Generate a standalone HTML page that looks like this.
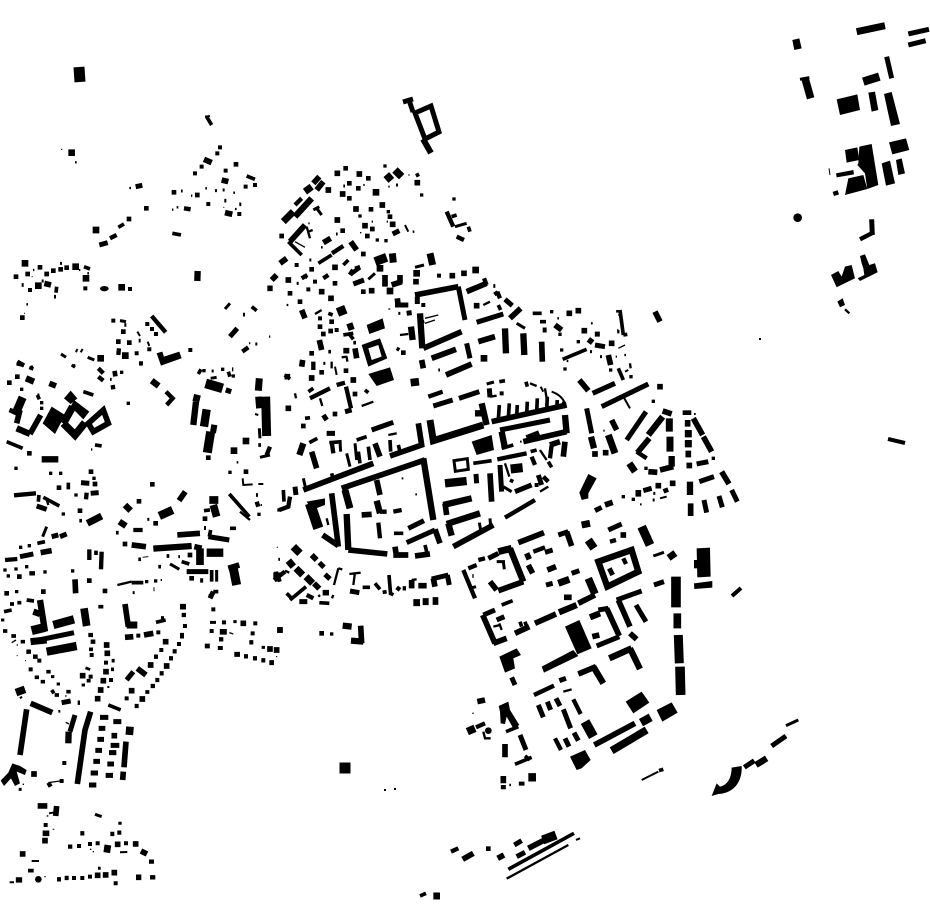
<!DOCTYPE html>
<html><head><meta charset="utf-8"><style>
html,body{margin:0;padding:0;background:#fff}
svg{display:block}
path{fill:none;stroke:#000;stroke-linejoin:miter}
polygon,circle,ellipse,path.f{fill:#000;stroke:none}
[class^=d]{stroke-linecap:square}
.w2{stroke-width:3}.w3{stroke-width:4}.w4{stroke-width:6}.w5{stroke-width:7}.w6{stroke-width:9}.w8{stroke-width:11}.w10{stroke-width:13}.w12{stroke-width:15}.w14{stroke-width:17}.w16{stroke-width:19}.w18{stroke-width:21}.w20{stroke-width:23}.w22{stroke-width:25}.w24{stroke-width:27}.w26{stroke-width:29}.w28{stroke-width:31}
.d2{stroke-width:4}.d4{stroke-width:10}.d5{stroke-width:12}.d6{stroke-width:10}.d8{stroke-width:14}.d10{stroke-width:17}.d12{stroke-width:20}
</style></head><body>
<svg width="930" height="924" viewBox="0 0 930 924" xmlns="http://www.w3.org/2000/svg">
<rect width="930" height="924" fill="#fff"/>

<!-- real coordinates -->
<g>
<path style="stroke-width:5" d="M415 113L431 106L439 132L425 139Z"/>
<path style="stroke-width:5" d="M403 102L413 99M409 100L413 112"/>
<path style="stroke-width:6" d="M423 139L431 153"/>
<path style="stroke-width:11" d="M79 67L80 82"/>
<path style="stroke-width:4" d="M888 439L905 443"/>
<path style="stroke-width:4" d="M732 596L741 588"/>
<path style="stroke-width:11;stroke-linecap:square" d="M345 768h0"/>
<path style="stroke-width:2;stroke-linecap:square" d="M385 790h0M395 789h0M760 339h0"/>
</g>

<!-- A : old town -->
<g transform="translate(270 370) scale(.3333)">
<polygon points="295,12 360,-8 372,30 320,48"/>
<polygon points="605,215 665,195 672,240 620,255"/>
<polygon points="110,395 165,385 165,405 125,420"/>
<path class=w4 d="M395 325h5M436 373h5M750 215h5M845 65Q875 75 885 100M812 50L820 65"/>
<path class=w5 d="M150 85L157 108M75 70L78 85M275 108L310 95M355 195L380 190M660 80L680 77M825 55L830 85M780 40L800 48M170 445L175 465M705 280L718 320M810 240L830 270M810 365L835 350"/>
<path class=w6 d="M650 42L672 36M210 215L212 245M255 220L260 270M230 250L240 290M100 325L108 360M700 350L725 365M660 445L662 470M628 458L632 480"/>
<path class=w6 d="M552 272L592 266L595 298L556 304Z"/>
<path class=w8 d="M115 65L130 55M285 60L295 68M105 145L120 143M118 218L142 205M178 218L215 215M260 210L290 200M265 245L270 280M295 230L300 270M360 210L362 245M385 225L390 245M688 35L705 32M768 35L772 50M730 335L720 330M610 280L665 272M782 245L800 240M835 275L845 292M372 490L400 490M695 235L730 225M185 310L190 330M465 525L470 545M40 360L42 395"/>
<path class=w8 d="M685 150L688 105M715 145L718 100M740 140L742 105M770 135L772 95M800 130L802 85M830 125L832 80M860 118L862 90M880 115L882 95"/>
<path class=w10 d="M475 80L518 65M120 85L180 55M200 45L225 38M228 50L243 115M185 215L190 250M845 225L840 265M785 260L795 285M682 268L770 250M60 380L55 410L28 420M705 443L795 390M820 320L835 335M330 425L350 425M370 425L395 420M325 458L330 505M270 72L270 72"/>
<path class=w12 d="M490 108L548 90M567 85L628 65M305 180L370 157M170 190L195 190M658 55L660 82M618 312L620 340M690 285L695 365M690 180L840 150M735 365L785 345M805 315L815 345M410 518L495 480M415 475L462 452M75 350L78 375M225 125L245 120M160 135L170 150"/>
<path class=w14 d="M665 155L890 105M445 160L455 225L360 258M125 245L140 295M100 360L310 280M215 355L465 270M320 330L330 375M275 435L305 433M235 540L352 552M185 370L205 530M158 495L205 527M495 478L510 520M375 530L380 562M370 555L415 555M435 558L480 552M660 310L665 395M525 400L530 435M550 530L670 465M760 215L890 185M885 215L880 260M840 225L870 215M315 220L330 260"/>
<path class=w16 d="M635 100L650 165M100 220L88 255M460 265L490 450M230 432L235 540M320 392L330 430M520 405L605 385M530 462L630 430M535 460L545 497M695 185L705 235M885 135L890 190M615 130L635 130M770 205L808 190"/>
<path class=w18 d="M480 150L490 212L640 165M225 360L240 415"/>
<path class=w20 d="M422 38L447 35"/>
<path class=w22 d="M525 340L590 333"/>
<path class=w28 d="M120 400L145 475"/>
<path class=w24 d="M722 297L758 293"/>
<path class=d5 d="M695 70h0M800 345h0"/>
<path class=d8 d="M100 168h0M195 132h0M255 72h0"/>
<path class=d10 d="M52 20h0M125 24h0M55 115h0M250 30h0"/>
<path class=w8 d="M44 15L60 27"/>
</g>

<!-- I : south arc -->
<g transform="translate(270 530) scale(.3333)">
<path class=w2 d="M20 52h3"/>
<path class=w5 d="M45 122L58 128M205 115L192 165M205 115L217 118M190 195L186 205M238 132L272 128M255 128L250 165M425 150L440 148M145 195L150 200"/>
<path class=w6 d="M25 88h5"/>
<path class=w8 d="M60 210L108 170M50 190L65 205M22 130L30 155M148 218L178 220M278 172L300 172M315 160L330 178M338 187L350 185M357 135L362 195M362 190L370 195"/>
<path class=w10 d="M12 150L45 125M110 195L130 205M380 172L390 180M398 175L408 175"/>
<path class=w12 d="M88 215L112 215M240 183L268 188M148 98L162 112M165 133L180 147M485 147L535 135M532 135L538 165"/>
<path class=w14 d="M125 75L140 90M132 160L148 176M158 188L177 188M425 150L425 175M445 167L470 167M490 145L495 170M22 300L38 300M272 287L275 340"/>
<path class=w16 d="M218 287L245 290M243 332L280 335"/>
<path class=w18 d="M55 92L70 110M78 115L98 135M108 140L128 160M430 218L450 218M458 215L476 215"/>
<path class=w20 d="M70 50L90 70M488 213L505 213"/>
<path class=d8 d="M155 310h0"/>
<path class=d6 d="M185 312h0"/>
</g>

<!-- C : south-east quarter -->
<g transform="translate(460 520) scale(.3333)">
<polygon points="710,85 750,83 752,170 712,172"/>
<polygon points="702,120 712,120 712,145 702,145"/>
<polygon points="702,190 757,183 757,203 703,207"/>
<polygon points="315,320 358,300 395,385 352,403"/>
<polygon points="245,440 340,390 355,408 252,458"/>
<polygon points="118,410 170,385 183,405 160,415 165,445 135,458"/>
<polygon points="590,570 635,547 653,578 607,605"/>
<polygon points="497,545 545,515 568,548 520,580"/>
<polygon points="330,710 375,690 392,720 365,745 350,750"/>
<polygon points="116,558 145,545 150,570 178,615 160,625 140,590 135,612 122,610 120,575"/>
<circle cx="85" cy="632" r="10"/>
<path class=w16 d="M415 125L515 90L535 155L442 200Z"/>
<path class=w3 d="M37 580h4"/>
<path class=w4 d="M545 780L595 755"/>
<path class=w5 d="M70 635L75 655L92 655M100 320L120 315M118 310L125 330M310 515L335 508M148 795h5"/>
<path class=w6 d="M580 108L612 97M110 125L135 125M130 125L133 148M28 205L48 200"/>
<path class=w8 d="M125 255L158 242M180 305L185 320M195 305L200 320M138 635L175 620M165 733L215 712M195 708L210 720M597 752L610 748M37 168h4"/>
<path class=w10 d="M25 145L50 135M55 120L75 115M10 150L45 235M220 95L255 82M450 65L468 60M222 525L282 497M340 538L362 582M285 655L303 690M48 622L75 610M490 115L498 132"/>
<path class=w12 d="M295 45L325 35M445 30L485 12M85 115L115 100M258 195L278 190M335 160L358 152M70 285L105 270M110 300L133 290M255 97L278 90M415 270L445 265M410 378L478 350M528 255L558 305M470 240L545 213M448 145L458 165M582 195L612 185M235 555L250 592M262 545L272 570M288 535L300 558M310 568L332 625M315 655L327 680M342 638L355 662M298 482L318 475M155 472L165 495M180 645L198 690M130 795L130 808"/>
<path class=w14 d="M175 68L252 38M320 35L335 78M190 185L115 212M90 185L110 210M200 100L208 118M205 135L218 160M262 150L288 140M312 232L335 232M405 225L355 250M225 310L288 282M475 240L510 320M68 285L105 370M100 370L140 355M165 340L208 320M440 265L478 348M397 350L418 345M355 462L408 440M52 545L75 540M510 340L530 358M403 675L525 610M135 672L135 712M130 768L130 790M185 785L185 797"/>
<path class=w16 d="M150 85L190 185M297 277L350 255M390 292L420 280M448 415L515 385M510 385L540 447M400 440L430 490"/>
<path class=w18 d="M115 95L155 85M295 190L328 178M365 15L390 10"/>
<path class=w20 d="M385 175L405 222M652 280L652 325M455 692L560 630M22 635L45 625"/>
<path class=w22 d="M385 60L402 85M630 98L642 115M205 772L228 772M543 608L572 592"/>
<path class=w24 d="M545 20L570 75M655 345L658 430"/>
<path class=w26 d="M648 170L648 262M660 440L662 525M375 605L400 650"/>
<path class=d10 d="M490 45h0"/>
</g>

<!-- J : far south -->
<g transform="translate(420 690) scale(.3333)">
<path class=f d="M935 233L965 228C968 270 945 310 895 312L875 318L890 280L900 290C925 285 935 260 935 233Z"/>
<path class=w4 d="M468 450L480 445"/>
<path class=w5 d="M260 566L445 465"/>
<path class=w6 d="M1098 107L1135 90"/>
<path class=w8 d="M265 538L462 430M0 618L18 610"/>
<path class=w10 d="M93 485L115 475"/>
<path class=w12 d="M973 232L1003 212M1055 168L1098 138M290 500L315 487M283 465L305 452"/>
<path class=w14 d="M128 508L160 490M233 505L252 495M325 475L370 452"/>
<path class=w16 d="M1008 225L1040 205"/>
<path class=w18 d="M40 618L60 618"/>
<path class=w24 d="M368 450L408 435"/>
<path class=d8 d="M205 476h0"/>
</g>

<!-- B : north quarter -->
<g transform="translate(260 160) scale(.3333)">
<polygon points="320,495 368,475 375,505 328,522"/>
<path class=f fill-rule="evenodd" d="M305 555L340 542L360 535L382 595L325 620ZM325 565L355 555L365 590L335 600Z"/>
<path class=w3 d="M105 245L135 262M495 475L535 465M495 490L525 480M490 480L492 490M385 447h6M300 218h4M445 45h4"/>
<path class=w4 d="M435 195L445 215M145 190h4M310 75h4M385 80h4M380 185h4M335 185h4M80 435h4M225 620L230 645"/>
<path class=w5 d="M140 200L150 235M145 215L158 210M183 262h5M420 525L445 522M165 462L185 450M670 435L690 425M245 592L262 590M260 590L262 605M215 605L215 625M458 215h5M80 435h5"/>
<path class=w6 d="M585 200L620 190M465 322L492 315M325 358L345 340M770 490L795 505M250 78h5M228 222h5M148 300h6M110 370h6M408 75h6M190 610h6M415 460h6M535 630h5"/>
<path class=w8 d="M85 245L125 285M175 310L215 285M250 315L265 300M285 325L300 320M575 170L590 165M625 200L630 215M470 40L475 50M205 460L218 465M250 525L280 520M270 525L280 538M715 435L722 450M410 565L418 570M205 575h8M280 548h8M700 378h6"/>
<path class=w10 d="M560 155L580 200M590 230L612 240M216 280L250 258M125 355L142 345M190 355L205 345M275 340L300 322M160 605L160 630M712 395L720 415M705 395L712 405M672 355L680 375"/>
<path class=w12 d="M620 550L630 595M398 222L418 212M280 372L312 360M270 345L280 330M440 460L455 458M405 435L445 435M650 487L730 462M735 418L757 437M472 410L472 432M595 380L615 480"/>
<path class=w14 d="M160 70L178 50M170 90L190 65M90 245L135 195M190 248L212 235M60 310L80 295M35 360L50 345M22 385L38 385M272 245L290 270M178 540L185 570M125 450L135 475M250 572L268 572M465 405L595 380M490 565L605 515M515 595L588 568M485 600L490 625M558 645L635 612M655 545L705 530M620 395L680 370M750 475L782 445M375 345L375 380M395 375L425 365M412 415L415 440M285 565L290 595M128 600L125 620M420 345L420 370"/>
<path class=w16 d="M105 170L155 115M480 460L487 565M735 505L738 580M790 520L793 585M453 500L458 540M268 490L275 510"/>
<path class=w18 d="M135 95L155 80M70 185L100 155M510 280L518 315M397 280L400 308"/>
<path class=w20 d="M405 30L425 50M378 60L395 45"/>
<path class=w24 d="M240 440L250 465M345 305L380 292"/>
<path class=w10 d="M105 135L125 115"/>
<path class=w6 d="M170 145L185 165M160 150L178 140"/>
<path class=d4 d="M485 105h0M582 117h0M352 240h0M378 242h0M375 18h0M300 168h0M385 155h0M205 90h0"/>
<path class=d5 d="M490 435h0M537 347h0M110 315h0M135 350h0M165 365h0M145 388h0M180 475h0M230 510h0"/>
<path class=d8 d="M257 25h0M325 55h0M268 70h0M268 115h0M295 85h0M333 148h0M390 170h0M337 207h0M322 228h0M248 212h0M155 328h0M90 400h0M120 425h0M225 370h0M215 485h0M180 500h0M190 522h0M212 513h0M155 580h0M185 637h0M258 632h0M310 282h0M65 228h0M430 578h0M310 395h0"/>
<path class=d10 d="M232 40h0M298 42h0M472 68h0M288 147h0M367 135h0M398 193h0M315 197h0M232 180h0M185 395h0M213 415h0M225 322h0M248 102h0M85 360h0M468 365h0M577 347h0M612 340h0M650 437h0M335 392h0M205 90h0"/>
<path class=d12 d="M348 97h0M470 340h0M360 325h0M647 330h0M390 393h0M672 595h0"/>
</g>

<!-- F : far north-east -->
<g transform="translate(780 10) scale(.3333)">
<polygon points="37,90 58,85 65,115 43,120"/>
<polygon points="170,268 232,253 240,300 180,315"/>
<polygon points="265,248 285,245 295,300 275,305"/>
<polygon points="312,252 335,246 360,342 333,348"/>
<polygon points="327,397 378,385 388,420 337,433"/>
<polygon points="195,420 232,412 238,450 200,458"/>
<polygon points="238,410 275,402 295,525 262,537 255,490 232,465 235,460"/>
<polygon points="205,505 250,495 262,537 195,555"/>
<polygon points="168,490 220,480 222,493 170,502"/>
<polygon points="305,460 330,452 345,520 318,527"/>
<polygon points="348,450 365,445 375,490 355,495"/>
<polygon points="153,795 175,783 185,800 195,770 215,765 225,805 170,832"/>
<polygon points="240,738 255,733 268,765 285,760 293,787 240,813 233,805 253,795 250,775 245,760"/>
<polygon points="172,875 188,865 195,885 180,892"/>
<circle cx="53" cy="623" r="13"/>
<path class=w2 d="M147 475L150 495"/>
<path class=w5 d="M195 898L208 910"/>
<path class=w6 d="M60 208L88 203"/>
<path class=w10 d="M160 552L175 547M240 688L275 670"/>
<path class=w12 d="M385 72L447 58M385 105L437 92M320 140L335 205M275 628L277 675"/>
<path class=w18 d="M230 65L315 47"/>
<path class=w20 d="M75 205L92 265"/>
<path class=w22 d="M250 215L298 200"/>
</g>

<!-- G : east -->
<g transform="translate(520 300) scale(.3333)">
<polygon points="205,522 230,535 205,580 205,595 185,600 178,578"/>
<path class=w3 d="M295 145L315 135"/>
<path class=w4 d="M287 170h4M315 215L325 210M310 290L330 325M360 613h5M420 595L440 590M250 392h4M295 45h4M522 342h5"/>
<path class=w5 d="M112 55h5M140 183h5M313 165h5M213 70h5M330 190L332 205M292 90L295 90M295 90L295 100M292 30L292 38"/>
<path class=w6 d="M210 155h6M240 170h6M398 600h6M400 580h6"/>
<path class=w8 d="M38 40L65 40M60 65L78 65M128 178L200 148M300 30L310 105M295 205L310 240M310 105L322 103"/>
<path class=w10 d="M350 455L380 475"/>
<path class=w12 d="M68 90h12M200 325L215 400M218 280L285 250M245 320L385 252M320 420L378 335M530 492L565 485M538 545L582 530M635 570L652 605M597 588L607 622M552 600L560 638M225 632L245 622M225 135L255 140M370 572L395 565M435 565L440 578M232 95L232 110"/>
<path class=w14 d="M65 125L67 185M105 75L125 90M265 165L272 195M405 35L420 65M178 240L205 272M275 360L290 390M352 458L388 415M428 333L455 342M420 510L460 500M385 515L412 517M520 355L548 405M550 410L575 455M605 515L627 552M503 360L503 380M505 452L505 472M508 488L508 505M512 610L512 648M255 615L278 607M355 570L355 590M205 118L218 128"/>
<path class=w16 d="M385 405L428 350M213 410L222 445M455 468L455 500M510 545L510 585"/>
<path class=w18 d="M448 355L448 395M450 410L450 455M505 390L505 412M505 420L505 442M328 490L345 515M265 405L285 460"/>
<path class=d4 d="M272 210h0M333 230h0M120 103h0M125 150h0M175 125h0M400 304h0M378 505h0M95 35h0M310 590h0M340 598h0M580 475h0M135 207h0"/>
<path class=d8 d="M495 338h12"/>
<path class=d10 d="M148 40h0M175 32h0M193 92h0M275 130h0M225 462h0M257 458h0M415 557h0M458 550h0M420 260h0"/>
</g>

<!-- D : west -->
<g transform="translate(0 360) scale(.3333)">
<polygon points="128,190 155,140 195,165 165,222"/>
<polygon points="192,115 212,92 232,115 212,132"/>
<polygon points="222,120 268,155 250,178 212,140"/>
<path class=w20 d="M190 190L225 225L255 188M190 190L218 140"/>
<path class=w14 d="M265 190L310 150L325 190L280 215Z"/>
<path class=w2 d="M428 592L445 590M462 682L462 694"/>
<path class=w3 d="M275 265L275 272M698 22L698 34M832 562h1"/>
<path class=w4 d="M765 162L775 165M728 355L730 375L758 373M775 372L790 372M615 498L615 510M482 660h4M782 435h4"/>
<path class=w5 d="M720 455L750 480M352 675L395 665M140 418L145 435M710 307h5"/>
<path class=w6 d="M35 145L30 158M632 55L650 52M778 205L780 235M780 292L810 285M128 530L140 500M112 105h6M215 15L225 22M330 58h5M442 478h6M510 612L538 628M605 655L605 668M650 630L650 665M635 33h6M535 590h5M398 698h6"/>
<path class=w8 d="M250 95L280 105M88 22L100 27M20 245L68 265M285 255L305 258M130 412L178 438M117 405L115 425M112 550L135 545M688 402L748 470M595 42L603 28M685 35L690 50M632 510L628 530M635 630L635 665M640 695L655 695M690 505L708 505M612 452L630 450M545 605L568 612M475 620h8M500 588h8M415 598h8M395 668L430 668M768 405h6M775 255h8M238 482h8M348 518h8M112 105L118 118"/>
<path class=w10 d="M50 10L72 15M295 25L310 40M295 50L310 62M338 75L340 88M498 95L518 115L500 135M42 406L108 400M260 398L258 418M268 568L268 600M305 575L303 628M400 510L428 510M810 260L800 285M15 600L52 597M88 640L105 640M770 425L775 440M828 635L832 665"/>
<path class=w8 d="M205 368L205 388M288 572L288 585"/>
<path class=w12 d="M272 400L296 398M110 438L140 448M60 590L100 582M155 530L175 525M180 530L200 522M243 368L268 370M625 530L688 540M640 695L630 715M560 635L625 635M820 645L840 645"/>
<path class=w14 d="M148 70L168 78M338 42L352 40M60 150L50 190M537 422L556 395M90 222L122 165M225 658L227 700M395 555L438 560M122 578L155 572M532 525L600 520M583 560L605 565M685 625L718 615M688 85L683 100"/>
<path class=w16 d="M50 205L90 222M78 55L102 65M125 298L175 298M588 125L580 195M775 110L778 145M460 566L575 558M358 485L378 498M455 62L476 78M375 435L392 452"/>
<path class=w18 d="M778 55L775 92M262 490L305 468M580 112L600 117"/>
<path class=w20 d="M628 420L655 420M640 435L650 470M600 565L600 615"/>
<path class=w22 d="M68 112L45 165M620 148L612 200M478 468L518 450M620 578L670 578M632 205L650 208"/>
<path class=w24 d="M632 215L622 278M797 110L800 228M700 625L710 675"/>
<path class=w26 d="M617 70L668 85"/>
<path class=d4 d="M125 128h0M125 145h0M65 88h0M190 462h0M88 557h0M48 325h0M15 630h0M48 627h0M80 620h0M25 648h0M135 636h0M218 633h0M50 695h0M440 665h0M467 663h0M690 337h0M282 355h0M365 37h0M422 12h0M152 340h0M182 340h0M385 130h0M612 32h0M668 28h0M700 48h0M228 405h0M837 450h0M777 463h0M62 562h0"/>
<path class=d8 d="M52 50h0M28 68h0M88 280h0M273 335h0M285 372h0M417 424h0M240 452h0M467 490h0M375 552h0M570 585h0M58 650h0M268 662h0M20 700h0M130 695h0M315 693h0M615 476h0M738 335h0M738 243h0M702 272h0M177 383h0M625 293h0M457 373h0M575 655h0"/>
<path class=d12 d="M738 243h0"/>
<path class=d12 d="M702 272h0"/>
</g>

<!-- E : south-west -->
<g transform="translate(0 590) scale(.3333)">
<polygon points="37,520 60,528 80,540 75,555 50,545 60,580 45,588 33,565 12,588 2,572 25,548"/>
<circle cx="115" cy="868" r="10"/>
<path class=w2 d="M75 212h3M158 718h5M828 200h4M50 197h3"/>
<path class=w3 d="M35 158L48 150M50 165h4M197 397L207 402M270 778h4M278 785h4M145 578L180 573M68 583h4M140 678h5M133 860h4M688 128L700 132M195 318h5"/>
<path class=w4 d="M60 325L66 320M178 360L178 368M147 670L165 667M95 813L117 813M360 787L382 786M29 877L42 877M325 288L325 294"/>
<path class=w6 d="M285 673L305 680M3 90h10M153 260h10M170 282h10M56 598h9M355 700h10M294 835h8M785 172h10M630 97L648 97M700 95h10M245 285h10"/>
<path class=w8 d="M30 42h12M52 38h12M80 30L102 33M12 65L35 60M9 123h13M62 155h13M34 138h14M295 50L310 50M468 97L497 90M104 262h13M122 275h13M139 245h13M155 300L162 310M164 315h13M199 305h13M325 345L362 360M84 842L101 842M267 178h12M436 306h12M333 238h9M335 212h9M260 272h12"/>
<path class=w10 d="M79 185h14M99 200h14M265 135h14M272 155h14M233 338L240 338M483 85h9M545 75h13M518 184h12M462 200h12M507 205h12M479 250h12M466 270h12M452 288h13M404 348h12M450 862L466 862M447 815L462 815M326 522h14M204 770h13M145 578L152 590M241 730h12M331 732h12M352 728h12M171 868h12M194 864h12M657 148h13M748 157h12M732 199h12M759 205h12M784 211h12"/>
<path class=w12 d="M185 338L212 333M265 232L262 240M380 270L400 245M300 382L325 382M296 415L316 415M292 448L312 448M286 481L306 481M280 514L300 514M272 549L294 549M267 585L289 585M327 488L349 488M317 556L339 556M322 522L342 522M340 395L364 395M622 161L622 175M661 168L661 180M703 193L720 193M808 218L822 218"/>
<path class=w14 d="M113 648L142 648M170 648L167 678M80 358L60 495M92 340L157 368M272 365L255 420L232 582M375 42L385 110M540 50L558 50M375 142L400 140M432 135L460 130M412 235L438 255M540 137L552 137M128 730L148 730M408 862L424 862M423 783L441 792M378 455L372 532M370 545L368 570"/>
<path class=w12 d="M225 375L210 425M332 466L358 466"/>
<path class=w16 d="M120 30L135 125M206 425L205 460M57 862L57 878M100 65L120 72"/>
<path class=w18 d="M92 155L140 150M380 105L412 105M670 117L670 134"/>
<path class=w12 d="M92 155L222 128"/>
<path class=w20 d="M252 55L260 108M48 308L75 298M312 775L332 778M390 410L388 435"/>
<path class=w22 d="M160 105L222 88M140 185L230 168"/>
<path class=w24 d="M95 122L135 112"/>
<path class=d5 d="M497 155h0M484 180h0M537 162h0M452 225h0M500 228h0M427 327h0M395 302h0M380 325h0M318 218h0M320 190h0M322 165h0M318 245h0M310 272h0M333 270h0M302 300h0M293 326h0M248 257h0M272 260h0M275 195h0M415 137h0M475 127h0M555 108h0M118 212h0M92 238h0M137 705h0M135 752h0M68 792h0M353 763h0M407 762h0M270 762h0M293 760h0M237 768h0M222 864h0M247 864h0M270 860h0M293 856h0M317 855h0M343 848h0M347 880h0M378 760h0M193 519h0M185 573h0M102 552h0M640 58h0M632 18h0M730 100h0M766 100h0M672 97h0M635 123h0M758 130h0M840 120h0M810 177h0M830 180h0"/>
<path class=d10 d="M302 300h0M293 326h0M343 437h0M248 257h0M310 272h0M395 302h0M497 155h0M320 165h0M322 190h0M318 245h0M452 225h0M500 228h0M427 327h0M730 100h0M810 177h0M830 180h0M840 120h0M353 763h0M407 762h0M293 856h0M317 855h0M343 848h0M68 792h0M135 752h0M102 552h0"/>
</g>

<!-- H : north-west -->
<g transform="translate(0 100) scale(.3333)">
<polygon points="470,760 487,755 492,770 538,755 545,775 483,797"/>
<ellipse cx="313" cy="566" rx="13" ry="8"/>
<path class=w2 d="M183 148h4M95 530h3M670 322h3M72 640h3"/>
<path class=w4 d="M615 50L630 48M412 695L420 708M443 725L448 738M228 757L232 747M242 757L248 747M747 730h4"/>
<path class=w5 d="M388 264h5M516 329h4M530 322h5M573 287h4M700 278h5M99 510h4M237 510h4M262 520h5M79 613h5M225 187h5M616 265h5M705 327h5M807 710h4"/>
<path class=w6 d="M543 273h5M645 272h6M668 270h6M183 762L198 772M263 772L283 780M675 627L690 610M360 662L378 665M125 543h6M180 490h6M766 732h6M220 797h6"/>
<path class=w8 d="M620 50L635 75M517 400L543 405M252 500L270 507M740 228L765 238M755 620L770 632M355 382L372 372M170 560L168 578M673 302h6M718 313h6M416 722h6M65 555h6M162 590h6M729 644h6M373 675h6M93 802h6"/>
<path class=w10 d="M455 648L497 697M727 755L745 742M330 415L350 405M552 325L572 328M52 785L72 797M357 745L355 765"/>
<path class=w12 d="M407 260L427 256M298 435L323 428M690 710L712 685"/>
<path class=w14 d="M612 178L635 188M675 338L697 343M133 550L153 555M665 240L685 245"/>
<path class=w16 d="M593 513L592 543"/>
<path class=d5 d="M660 142h0M652 160h0M605 200h0M585 220h0M737 260h0M765 255h0M625 312h0M718 342h0M571 750h0M423 790h0M448 748h0M442 672h0M456 687h0M468 702h0M410 760h0M340 662h0M256 565h0M390 567h0M90 570h0M677 212h0"/>
<path class=d8 d="M708 193h0M522 277h0M592 285h0M439 325h0M387 357h0M48 530h0M83 522h0M120 502h0M140 522h0M160 512h0M182 508h0M200 503h0M355 725h0M388 728h0M370 695h0M67 653h0"/>
<path class=d12 d="M215 158h0M288 390h0M75 490h0M115 557h0M227 500h0M258 535h0M365 562h0M376 767h0M302 775h0"/>
</g>
</svg>
</body></html>
